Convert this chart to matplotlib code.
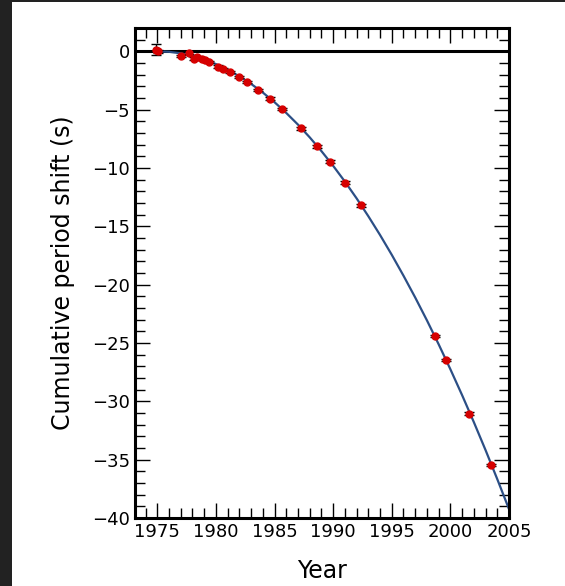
import matplotlib
matplotlib.use('Agg')
import matplotlib.pyplot as plt
from matplotlib.patches import Rectangle
from matplotlib.ticker import MultipleLocator

# measured points (year, cumulative shift in s)
years = [1974.9, 1975.1, 1977.05, 1977.7, 1978.1, 1978.4, 1978.8, 1979.05, 1979.4,
         1980.15, 1980.6, 1981.2, 1982.0, 1982.65, 1983.6, 1984.6, 1985.6,
         1987.3, 1988.6, 1989.7, 1991.0, 1992.35, 1998.65, 1999.65, 2001.6, 2003.45]
shift = [0.15, 0.0, -0.38, -0.1, -0.62, -0.5, -0.65, -0.74, -0.9,
         -1.3, -1.5, -1.76, -2.2, -2.6, -3.3, -4.05, -4.95,
         -6.6, -8.15, -9.45, -11.25, -13.2, -24.4, -26.45, -31.05, -35.45]
err = [0.45, 0.1, 0.1, 0.1, 0.1, 0.1, 0.1, 0.1, 0.1,
       0.1, 0.1, 0.1, 0.1, 0.1, 0.1, 0.1, 0.1,
       0.1, 0.1, 0.1, 0.1, 0.1, 0.1, 0.1, 0.1, 0.1]

# curve
curve_years = list(range(1975, 2006))
curve_shift = [0.0, -0.04, -0.17, -0.39, -0.70, -1.09, -1.57, -2.14, -2.79, -3.53,
               -4.36, -5.28, -6.28, -7.37, -8.55, -9.81, -11.16, -12.60, -14.13, -15.74,
               -17.44, -19.23, -21.10, -23.06, -25.11, -27.25, -29.47, -31.78, -34.18,
               -36.67, -39.24]

fig = plt.figure(figsize=(5.65, 5.86), dpi=100, facecolor='#222222')
fig.patches.append(Rectangle((12/565, 0), 1, 1 - 2/586, transform=fig.transFigure,
                             facecolor='white', edgecolor='none', zorder=-10))
ax = fig.add_axes([135/565, 1 - 518/586, 374/565, 490/586])

ax.axhline(0, color='black', lw=2.2, zorder=1)
ax.plot(curve_years, curve_shift, color='#2c4f86', lw=1.6, zorder=2)
ax.errorbar(years, shift, yerr=err, fmt='o', color='#d60000', ms=5,
            ecolor='black', elinewidth=1, capsize=3.3, capthick=1, zorder=3)

ax.set_xlim(1973.1, 2005)
ax.set_ylim(-40, 2)
ax.xaxis.set_major_locator(MultipleLocator(5))
ax.xaxis.set_minor_locator(MultipleLocator(1))
ax.yaxis.set_major_locator(MultipleLocator(5))
ax.yaxis.set_minor_locator(MultipleLocator(1))
ax.tick_params(which='both', direction='in', top=True, right=True, labelsize=13)
ax.tick_params(which='major', length=11, width=1)
ax.tick_params(which='minor', length=7, width=1)
for s in ax.spines.values():
    s.set_linewidth(2.2)

ax.set_xlabel('Year', fontsize=17, labelpad=13)
ax.set_ylabel('Cumulative period shift (s)', fontsize=17, labelpad=12)

fig.savefig('out.png', dpi=100, facecolor=fig.get_facecolor())
